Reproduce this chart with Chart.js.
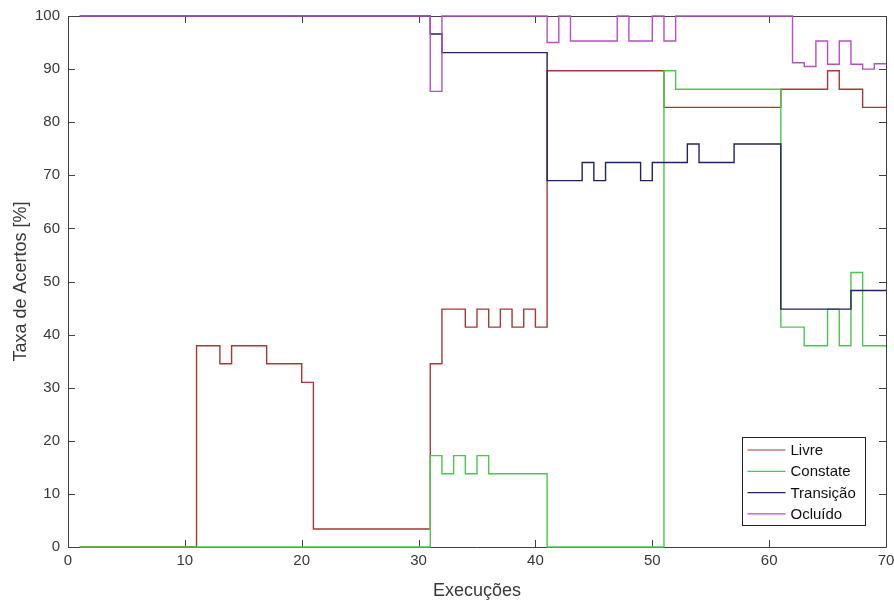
<!DOCTYPE html>
<html>
<head>
<meta charset="utf-8">
<script src="https://cdn.jsdelivr.net/npm/chart.js@4"></script>
<style>
  html, body { margin: 0; padding: 0; background: #fff; }
  #wrap { width: 894px; height: 606px; }
</style>
</head>
<body>
<div id="wrap"><canvas id="chart" width="894" height="606"></canvas></div>
<script>
// Execuções (x values of the stairs)
const runs = Array.from({ length: 70 }, (_, i) => i + 1);

const livre = [
  0, 0, 0, 0, 0, 0, 0, 0, 0, 0,
  37.9, 37.9, 34.5, 37.9, 37.9, 37.9, 34.5, 34.5, 34.5, 31.0,
  3.4, 3.4, 3.4, 3.4, 3.4, 3.4, 3.4, 3.4, 3.4, 3.4,
  34.5, 44.8, 44.8, 41.4, 44.8, 41.4, 44.8, 41.4, 44.8, 41.4,
  89.7, 89.7, 89.7, 89.7, 89.7, 89.7, 89.7, 89.7, 89.7, 89.7,
  82.8, 82.8, 82.8, 82.8, 82.8, 82.8, 82.8, 82.8, 82.8, 82.8,
  86.2, 86.2, 86.2, 86.2, 89.7, 86.2, 86.2, 82.8, 82.8, 82.8
];

const constate = [
  0, 0, 0, 0, 0, 0, 0, 0, 0, 0,
  0, 0, 0, 0, 0, 0, 0, 0, 0, 0,
  0, 0, 0, 0, 0, 0, 0, 0, 0, 0,
  17.2, 13.8, 17.2, 13.8, 17.2, 13.8, 13.8, 13.8, 13.8, 13.8,
  0, 0, 0, 0, 0, 0, 0, 0, 0, 0,
  89.7, 86.2, 86.2, 86.2, 86.2, 86.2, 86.2, 86.2, 86.2, 86.2,
  41.4, 41.4, 37.9, 37.9, 44.8, 37.9, 51.7, 37.9, 37.9, 37.9
];

const transicao = [
  100, 100, 100, 100, 100, 100, 100, 100, 100, 100,
  100, 100, 100, 100, 100, 100, 100, 100, 100, 100,
  100, 100, 100, 100, 100, 100, 100, 100, 100, 100,
  96.6, 93.1, 93.1, 93.1, 93.1, 93.1, 93.1, 93.1, 93.1, 93.1,
  69.0, 69.0, 69.0, 72.4, 69.0, 72.4, 72.4, 72.4, 69.0, 72.4,
  72.4, 72.4, 75.9, 72.4, 72.4, 72.4, 75.9, 75.9, 75.9, 75.9,
  44.8, 44.8, 44.8, 44.8, 44.8, 44.8, 48.3, 48.3, 48.3, 48.3
];

const ocluido = [
  100, 100, 100, 100, 100, 100, 100, 100, 100, 100,
  100, 100, 100, 100, 100, 100, 100, 100, 100, 100,
  100, 100, 100, 100, 100, 100, 100, 100, 100, 100,
  85.8, 100, 100, 100, 100, 100, 100, 100, 100, 100,
  95.0, 100, 95.3, 95.3, 95.3, 95.3, 100, 95.3, 95.3, 100,
  95.3, 100, 100, 100, 100, 100, 100, 100, 100, 100,
  100, 91.2, 90.5, 95.3, 90.9, 95.3, 90.9, 90.0, 91.0, 91.0
];

const seriesNames = ["Livre", "Constate", "Transição", "Ocluído"];
const seriesColors = ["#a33a35", "#4cc84c", "#22235e", "#b44fc4"];
const xTicks = [0, 10, 20, 30, 40, 50, 60, 70];
const yTicks = [0, 10, 20, 30, 40, 50, 60, 70, 80, 90, 100];

const axisColor = "#404040";
const textColor = "#383838";
const font = "'Liberation Sans', Arial, sans-serif";

function points(values) {
  return runs.map((r, i) => ({ x: r, y: values[i] }));
}

// box around the plot with inward ticks (under the lines), legend on top
const matlabAxes = {
  id: "matlabAxes",
  beforeDatasetsDraw(chart) {
    const { ctx, chartArea: a, scales } = chart;
    const len = 7;
    ctx.save();
    ctx.strokeStyle = axisColor;
    ctx.lineWidth = 1;
    ctx.beginPath();
    ctx.rect(Math.round(a.left) + 0.5, Math.round(a.top) + 0.5,
      Math.round(a.right - a.left), Math.round(a.bottom - a.top));
    xTicks.forEach(v => {
      const px = Math.round(scales.x.getPixelForValue(v)) + 0.5;
      ctx.moveTo(px, a.bottom); ctx.lineTo(px, a.bottom - len);
      ctx.moveTo(px, a.top); ctx.lineTo(px, a.top + len);
    });
    yTicks.forEach(v => {
      const py = Math.round(scales.y.getPixelForValue(v)) + 0.5;
      ctx.moveTo(a.left, py); ctx.lineTo(a.left + len, py);
      ctx.moveTo(a.right, py); ctx.lineTo(a.right - len, py);
    });
    ctx.stroke();
    ctx.restore();
  },
  afterDatasetsDraw(chart) {
    const { ctx, chartArea: a } = chart;
    const rowH = 21.3;
    const w = 123, h = 88;
    const x0 = Math.round(a.right - 21 - w) + 0.5;
    const y0 = Math.round(a.bottom - 22 - h) + 0.5;
    ctx.save();
    ctx.fillStyle = "#fff";
    ctx.fillRect(x0, y0, w, h);
    ctx.strokeStyle = "#222";
    ctx.lineWidth = 1;
    ctx.strokeRect(x0, y0, w, h);
    ctx.font = "15px " + font;
    ctx.textBaseline = "middle";
    chart.data.datasets.slice().sort((p, q) => q.order - p.order).forEach((ds, i) => {
      const cy = y0 + 12.5 + i * rowH;
      ctx.strokeStyle = ds.borderColor;
      ctx.lineWidth = 1.2;
      ctx.beginPath();
      ctx.moveTo(x0 + 5, cy); ctx.lineTo(x0 + 43, cy);
      ctx.stroke();
      ctx.fillStyle = "#111";
      ctx.fillText(ds.label, x0 + 48, cy + 1);
    });
    ctx.restore();
  }
};

new Chart(document.getElementById("chart"), {
  type: "line",
  data: {
    datasets: [livre, constate, transicao, ocluido].map((vals, i) => ({
      label: seriesNames[i],
      data: points(vals),
      borderColor: seriesColors[i],
      backgroundColor: seriesColors[i],
      borderWidth: 1.4,
      stepped: "before",
      pointRadius: 0,
      fill: false,
      clip: 3,
      order: 4 - i
    }))
  },
  options: {
    responsive: false,
    animation: false,
    layout: { padding: { top: 16, right: 8, left: 10, bottom: 0 } },
    plugins: {
      legend: { display: false },
      tooltip: { enabled: false }
    },
    scales: {
      x: {
        type: "linear",
        min: 0,
        max: 70,
        afterBuildTicks: s => { s.ticks = xTicks.map(v => ({ value: v })); },
        afterFit: s => { s.height = 59; s.paddingLeft = 0; s.paddingRight = 0; },
        grid: { display: false, drawTicks: false },
        border: { display: false },
        ticks: { color: textColor, font: { family: font, size: 15 }, padding: 5, maxRotation: 0 },
        title: {
          display: true,
          text: "Execuções",
          color: textColor,
          font: { family: font, size: 18 },
          padding: { top: 2, bottom: 4 }
        }
      },
      y: {
        min: 0,
        max: 100,
        afterBuildTicks: s => { s.ticks = yTicks.map(v => ({ value: v })); },
        afterFit: s => { s.width = 58; s.paddingTop = 0; s.paddingBottom = 0; },
        grid: { display: false, drawTicks: false },
        border: { display: false },
        ticks: { color: textColor, font: { family: font, size: 15 }, padding: 8 },
        title: {
          display: true,
          text: "Taxa de Acertos [%]",
          color: textColor,
          font: { family: font, size: 18 },
          padding: { top: 0, bottom: 2 }
        }
      }
    }
  },
  plugins: [matlabAxes]
});
</script>
</body>
</html>
